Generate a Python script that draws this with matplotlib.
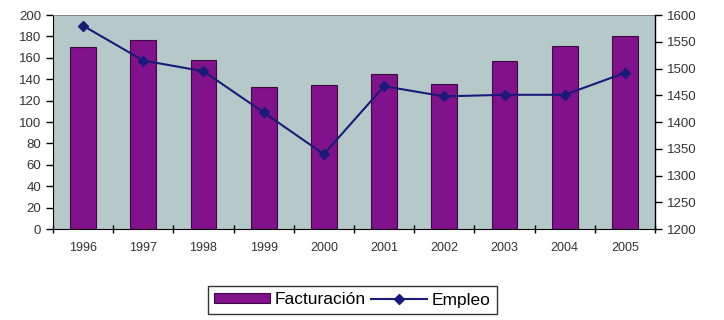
import numpy as np
import matplotlib.pyplot as plt

plt.rcParams['font.family'] = ['Liberation Sans', 'DejaVu Sans']

# data
years = ['1996', '1997', '1998', '1999', '2000', '2001', '2002', '2003', '2004', '2005']
facturacion = [170, 177, 158, 133, 135, 145, 136, 157, 171, 180]
empleo = [1580, 1515, 1495, 1418, 1340, 1467, 1448, 1451, 1451, 1492]

x = np.arange(len(years))

fig = plt.figure(figsize=(7.24, 3.2), dpi=100)
ax = fig.add_axes([0.0732, 0.284, 0.8315, 0.669])
ax.set_facecolor('#b6c9c9')

bars = ax.bar(x, facturacion, width=0.43, color='#82118c', edgecolor='#3a0a40',
              linewidth=0.8, label='Facturación', zorder=2)
ax.set_xlim(-0.5, len(years) - 0.5)
ax.set_ylim(0, 200)
ax.set_yticks(np.arange(0, 201, 20))

# x ticks sit between categories, labels centred under bars
ax.set_xticks(np.arange(-0.5, len(years), 1))
ax.set_xticklabels([])
ax.set_xticks(x, minor=True)
ax.set_xticklabels(years, minor=True)
ax.tick_params(axis='x', which='major', direction='inout', length=6, width=1)
ax.tick_params(axis='x', which='minor', length=0, pad=9, labelsize=9, labelcolor='#333333')
ax.tick_params(axis='y', direction='out', length=5, width=1, labelsize=9.5, labelcolor='#333333')

ax2 = ax.twinx()
line, = ax2.plot(x, empleo, color='#1a1a7a', marker='D', markersize=5,
                 linewidth=1.5, label='Empleo', zorder=3)
ax2.set_ylim(1200, 1600)
ax2.set_yticks(np.arange(1200, 1601, 50))
ax2.tick_params(axis='y', direction='out', length=5, width=1, labelsize=9.5, labelcolor='#333333')

ax.spines['right'].set_visible(False)
ax.spines['top'].set_color('#777777')
ax.spines['top'].set_linewidth(0.6)
ax2.spines['left'].set_visible(False)
ax2.spines['bottom'].set_visible(False)
ax2.spines['top'].set_visible(False)
ax2.spines['right'].set_linewidth(1)

leg = fig.legend([bars, line], ['Facturación', 'Empleo'], loc='center',
                 bbox_to_anchor=(0.487, 0.0625), ncol=2, frameon=True, fancybox=False,
                 edgecolor='black', fontsize=12.5, handlelength=3.2, handleheight=0.5,
                 handletextpad=0.3, columnspacing=0.3, borderpad=0.35)
leg.get_frame().set_linewidth(1)

fig.savefig('out.png', dpi=100)
